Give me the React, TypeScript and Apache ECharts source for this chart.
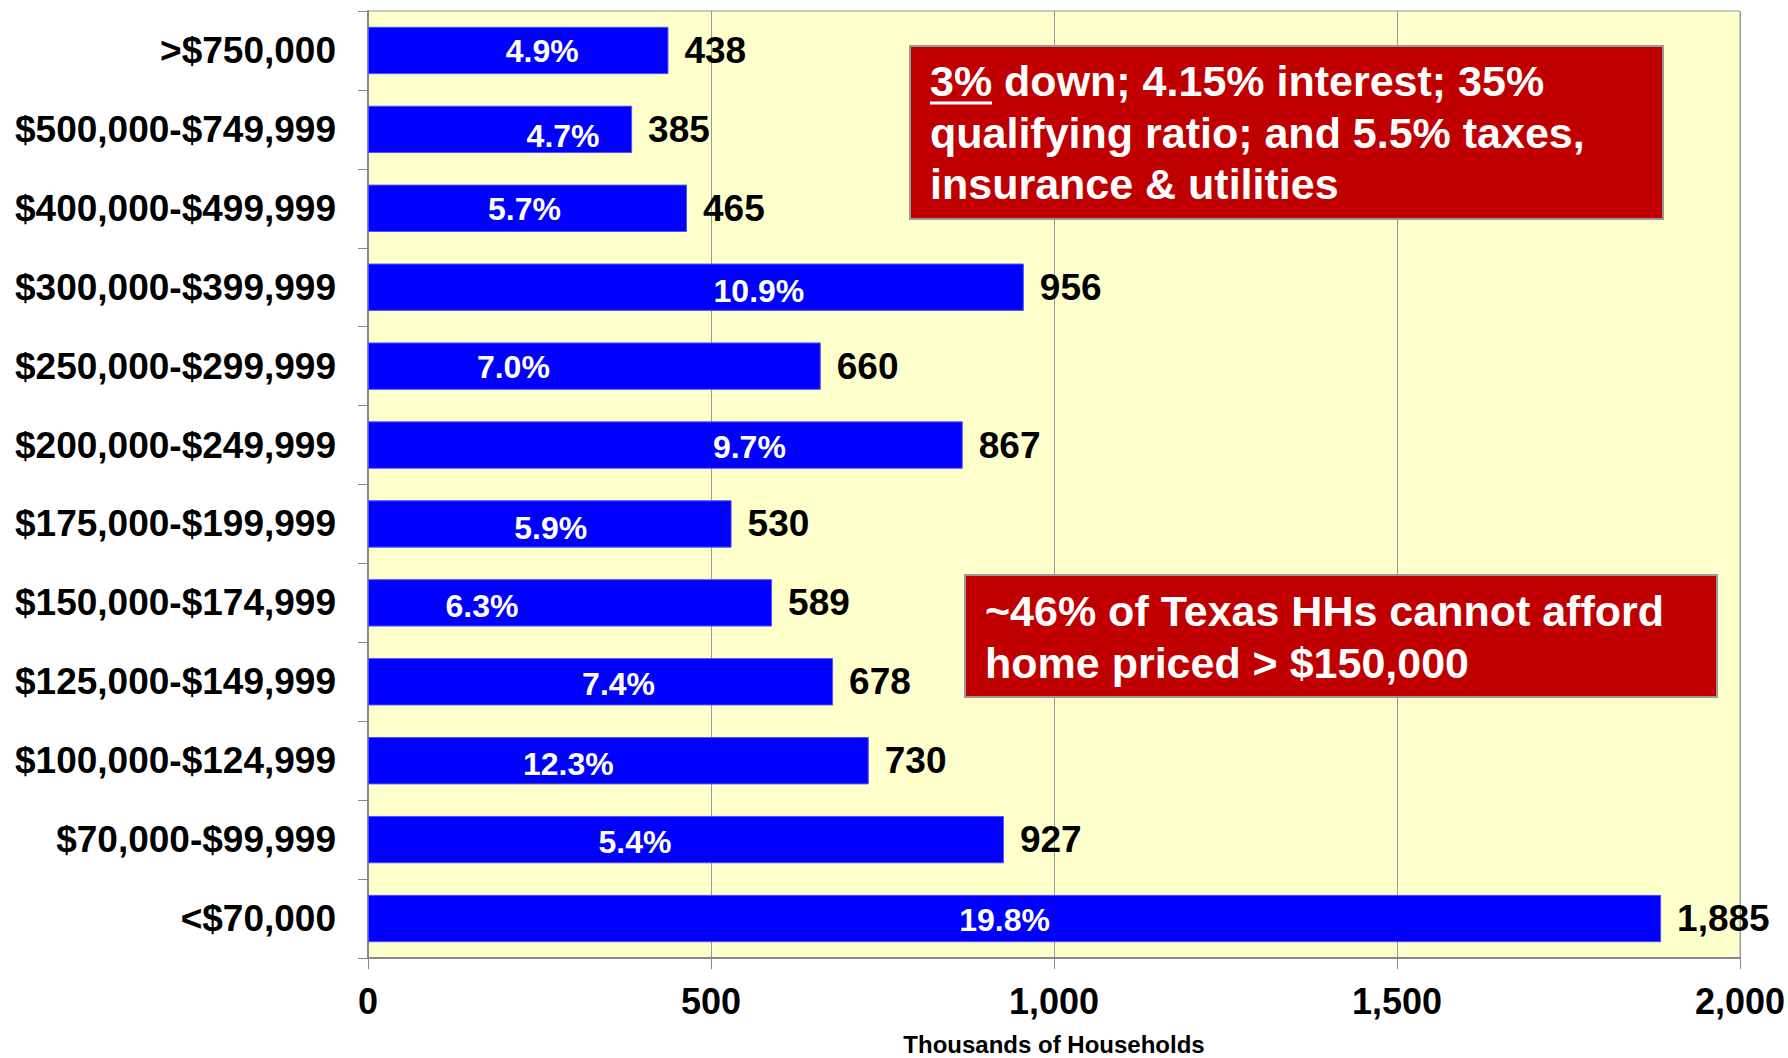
import React, { useEffect, useRef } from "react";
import * as echarts from "echarts";

const categories = [
  ">$750,000",
  "$500,000-$749,999",
  "$400,000-$499,999",
  "$300,000-$399,999",
  "$250,000-$299,999",
  "$200,000-$249,999",
  "$175,000-$199,999",
  "$150,000-$174,999",
  "$125,000-$149,999",
  "$100,000-$124,999",
  "$70,000-$99,999",
  "<$70,000",
];
const households = [438, 385, 465, 956, 660, 867, 530, 589, 678, 730, 927, 1885];
const shares = [4.9, 4.7, 5.7, 10.9, 7.0, 9.7, 5.9, 6.3, 7.4, 12.3, 5.4, 19.8];
const xTicks = { min: 0, max: 2000, interval: 500 };
const axisTitle = "Thousands of Households";
const note1Lines = ["3% down; 4.15% interest; 35%", "qualifying ratio; and 5.5% taxes,", "insurance & utilities"];
const note2Lines = ["~46% of Texas HHs cannot afford", "home priced > $150,000"];

// layout tweaks (pixel offsets of the share labels, as placed in the original)
const shareLabelOffsets: [number, number][] = [
  [24, 1], [63, 7], [-3, 1], [63, 4], [-81, 1], [84, 2],
  [1, 4], [-88, 3], [18, 2], [-50, 3], [-51, 2], [-10, 1],
];

const FONT = '"Liberation Sans", Arial, sans-serif';

export default function App() {
  const ref = useRef<HTMLDivElement>(null);
  useEffect(() => {
    document.body.style.margin = "0";
    if (!ref.current) return;
    const chart = echarts.init(ref.current, null, { renderer: "svg" });
    const textStyle = (size: number) => ({
      font: `bold ${size}px ${FONT}`,
      fill: "#ffffff",
      verticalAlign: "middle",
      align: "left",
    });
    chart.setOption({
      animation: false,
      textStyle: { fontFamily: FONT },
      grid: {
        left: 368,
        right: 48,
        top: 11,
        bottom: 100,
        outerBoundsMode: "none",
        containLabel: false,
        show: true,
        backgroundColor: "#FFFFCC",
        borderColor: "#999999",
        borderWidth: 1,
      },
      xAxis: {
        type: "value",
        min: xTicks.min,
        max: xTicks.max,
        interval: xTicks.interval,
        name: axisTitle,
        nameLocation: "middle",
        nameGap: 74,
        nameTextStyle: {
          fontSize: 24,
          lineHeight: 24,
          fontWeight: "bold",
          color: "#000",
          fontFamily: FONT,
        },
        axisLine: { show: true, lineStyle: { color: "#888888", width: 2 } },
        axisTick: { show: true, length: 11, lineStyle: { color: "#888888", width: 1 } },
        splitLine: { show: true, lineStyle: { color: "#999999", width: 1 } },
        axisLabel: {
          fontSize: 36,
          fontWeight: "bold",
          color: "#000",
          margin: 25,
          fontFamily: FONT,
          formatter: (v: number) => v.toLocaleString("en-US"),
        },
      },
      yAxis: {
        type: "category",
        inverse: true,
        data: categories,
        axisLine: { show: true, lineStyle: { color: "#888888", width: 2 } },
        axisTick: { show: true, length: 10, lineStyle: { color: "#888888", width: 1 } },
        splitLine: { show: false },
        axisLabel: {
          fontSize: 37,
          fontWeight: "bold",
          color: "#000",
          margin: 32,
          fontFamily: FONT,
        },
      },
      series: [
        {
          type: "bar",
          data: households,
          barWidth: "60%",
          itemStyle: { color: "#0000FF", borderColor: "#5050FF", borderWidth: 1 },
          label: {
            show: true,
            position: "right",
            distance: 16,
            fontSize: 37,
            fontWeight: "bold",
            color: "#000",
            fontFamily: FONT,
            formatter: (p: any) => Number(p.value).toLocaleString("en-US"),
          },
          silent: true,
          z: 2,
        },
        {
          type: "bar",
          data: households.map((v, i) => ({
            value: v,
            label: { offset: shareLabelOffsets[i] },
          })),
          barWidth: "60%",
          barGap: "-100%",
          itemStyle: { color: "rgba(0,0,0,0)" },
          label: {
            show: true,
            position: "inside",
            fontSize: 32,
            fontWeight: "bold",
            color: "#fff",
            fontFamily: FONT,
            formatter: (p: any) => `${shares[p.dataIndex].toFixed(1)}%`,
          },
          silent: true,
          z: 3,
        },
      ],
      graphic: [
        {
          type: "rect",
          shape: { x: 910, y: 46, width: 753, height: 173 },
          style: { fill: "#C00000", stroke: "#999999", lineWidth: 2 },
          z: 10,
        },
        ...note1Lines.map((t, i) => ({
          type: "text",
          x: 930,
          y: 81 + i * 51.5,
          style: { text: t, ...textStyle(43) },
          z: 11,
        })),
        {
          type: "line",
          shape: { x1: 930, y1: 103, x2: 992, y2: 103 },
          style: { stroke: "#ffffff", lineWidth: 3 },
          z: 11,
        },
        {
          type: "rect",
          shape: { x: 965, y: 575, width: 752, height: 122 },
          style: { fill: "#C00000", stroke: "#999999", lineWidth: 2 },
          z: 10,
        },
        ...note2Lines.map((t, i) => ({
          type: "text",
          x: 985,
          y: 611 + i * 51.5,
          style: { text: t, ...textStyle(43) },
          z: 11,
        })),
      ],
    });
    return () => chart.dispose();
  }, []);
  return <div ref={ref} style={{ width: 1788, height: 1058 }} />;
}
